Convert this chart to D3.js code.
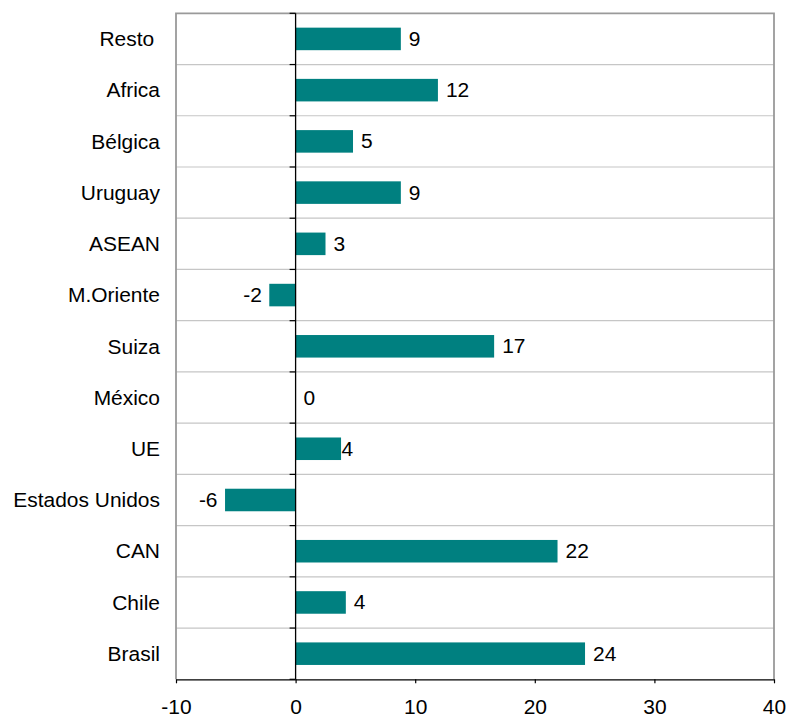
<!DOCTYPE html>
<html>
<head>
<meta charset="utf-8">
<script src="https://cdn.jsdelivr.net/npm/d3@7"></script>
<style>
  html, body { margin: 0; padding: 0; background: #ffffff; }
  svg { display: block; }
  text { font-family: "Liberation Sans", Arial, sans-serif; fill: #000; }
</style>
</head>
<body>
<div id="chart"></div>
<script>
// ---- data ----
const categories = ["Resto", "Africa", "Bélgica", "Uruguay", "ASEAN", "M.Oriente", "Suiza",
                    "México", "UE", "Estados Unidos", "CAN", "Chile", "Brasil"];
const values = [8.8, 11.9, 4.8, 8.8, 2.5, -2.2, 16.6, 0, 3.8, -5.9, 21.9, 4.2, 24.2];
const xTicks = [-10, 0, 10, 20, 30, 40];

// ---- layout ----
const W = 789, H = 719;
const plot = { left: 176, right: 774, top: 13.3, bottom: 679.3 };
const FS = 19.5, SX = 1.075;
const barColor = "#008080";

const svg = d3.select("#chart").append("svg")
  .attr("width", W).attr("height", H)
  .attr("viewBox", `0 0 ${W} ${H}`);

svg.append("rect").attr("width", W).attr("height", H).attr("fill", "#fff");

const x = d3.scaleLinear().domain([-10, 40]).range([plot.left, plot.right]);
const y = d3.scaleBand().domain(categories).range([plot.top, plot.bottom])
  .paddingInner(0.56).paddingOuter(0.28);

const data = categories.map((c, i) => ({ cat: c, v: values[i] }));

// band boundaries
const step = y.step();
const bounds = categories.map(c => y(c) + y.bandwidth() / 2 - step / 2);
bounds.push(plot.bottom);

// gridlines between categories
svg.append("g").selectAll("line").data(bounds.slice(1, -1)).join("line")
  .attr("x1", plot.left).attr("x2", plot.right)
  .attr("y1", d => d).attr("y2", d => d)
  .attr("stroke", "#c6c6c6").attr("stroke-width", 1.2);

// plot border (top, left, right)
svg.append("path")
  .attr("d", `M${plot.left},${plot.bottom} V${plot.top} H${plot.right} V${plot.bottom}`)
  .attr("fill", "none").attr("stroke", "#9a9a9a").attr("stroke-width", 1.8);

// bars
svg.append("g").selectAll("rect").data(data).join("rect")
  .attr("x", d => x(Math.min(0, d.v)))
  .attr("width", d => Math.abs(x(d.v) - x(0)))
  .attr("y", d => y(d.cat))
  .attr("height", y.bandwidth())
  .attr("fill", barColor);

// zero (category) axis line with ticks
const zx = x(0);
svg.append("line").attr("x1", zx).attr("x2", zx)
  .attr("y1", plot.top).attr("y2", plot.bottom)
  .attr("stroke", "#000").attr("stroke-width", 1.3);
svg.append("g").selectAll("line").data(bounds).join("line")
  .attr("x1", zx - 6).attr("x2", zx)
  .attr("y1", d => d).attr("y2", d => d)
  .attr("stroke", "#000").attr("stroke-width", 1.2);

// value labels
const fmt = v => String(Math.round(v));
svg.append("g").selectAll("text").data(data).join("text")
  .attr("transform", d => {
    const gap = d.cat === "UE" ? 0.5 : 8;
    const tx = d.v < 0 ? x(d.v) - 7.5 : x(d.v) + gap;
    return `translate(${tx},${y(d.cat) + y.bandwidth() / 2}) scale(${SX},1)`;
  })
  .attr("text-anchor", d => d.v < 0 ? "end" : "start")
  .attr("dy", "0.36em")
  .attr("font-size", FS)
  .text(d => fmt(d.v));

// category labels (left axis)
const yAxis = d3.axisLeft(y).tickSize(0).tickPadding(0)
  .tickFormat(d => d === "Resto" ? d + "\u00a0" : d);
const gy = svg.append("g").attr("transform", `translate(160,0)`).call(yAxis);
gy.select(".domain").remove();
gy.selectAll("text")
  .attr("x", null).attr("dy", "0.37em")
  .attr("font-size", FS).attr("font-family", null)
  .attr("transform", `scale(${SX},1)`)
  .attr("fill", "#000");

// x axis
const xAxis = d3.axisBottom(x).tickValues(xTicks).tickSize(4).tickSizeOuter(0)
  .tickPadding(17).tickFormat(d => String(d));
const gx = svg.append("g").attr("transform", `translate(0,${plot.bottom})`).call(xAxis);
gx.select(".domain").attr("stroke", "#000").attr("stroke-width", 1.3);
gx.selectAll(".tick line").attr("stroke", "#000").attr("stroke-width", 1.2);
gx.selectAll("text")
  .attr("font-size", FS).attr("font-family", null)
  .attr("transform", `scale(${SX},1)`)
  .attr("fill", "#000");
</script>
</body>
</html>
